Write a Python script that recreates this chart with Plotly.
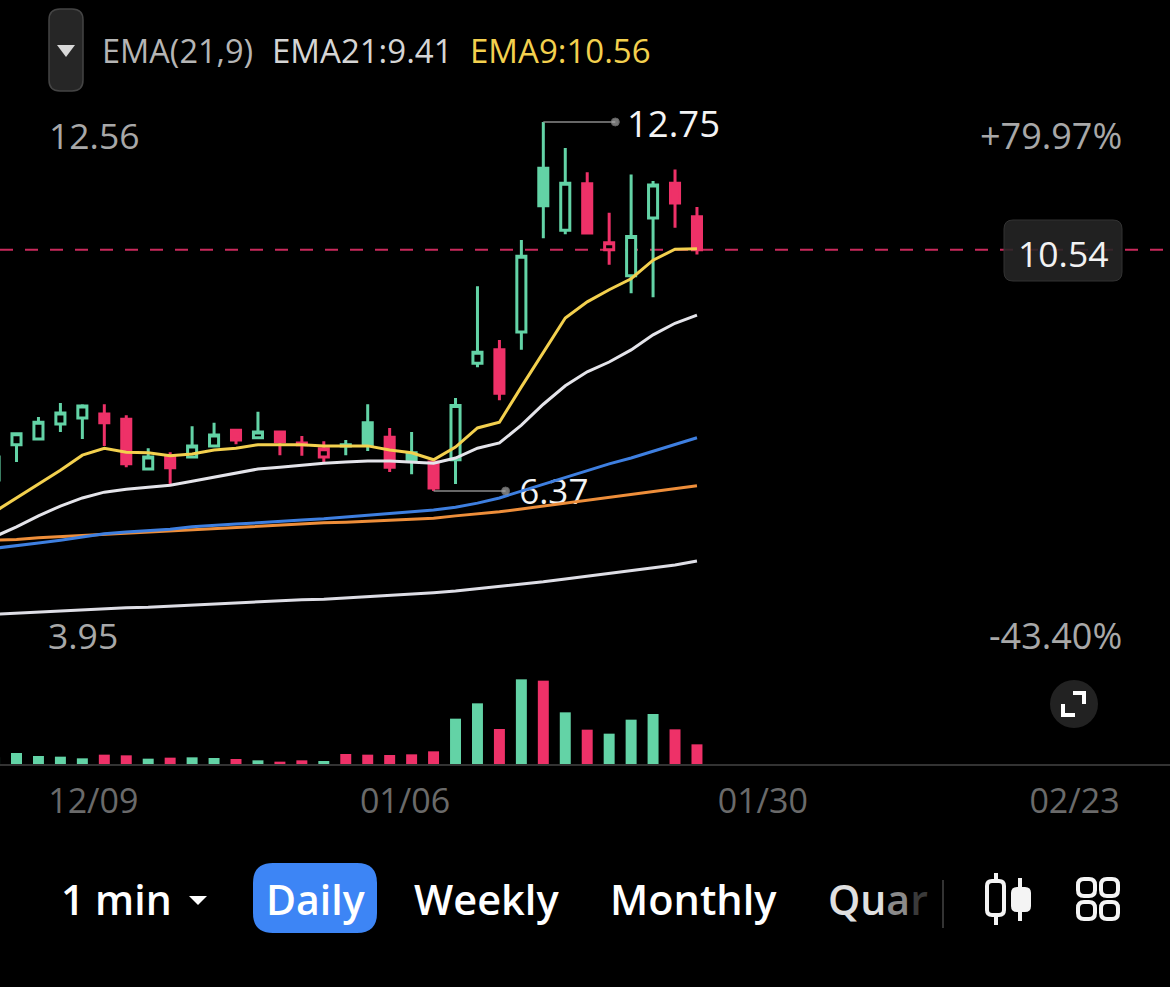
import plotly.graph_objects as go

W, H = 1170, 987

# 数据：从截图读出来的日K（第一根只露出一点）
positions = list(range(33))
opens = [6.56, 7.17, 7.27, 7.53, 7.63, 7.70, 7.61, 6.75, 6.96, 6.96, 7.15, 7.42, 7.29, 7.39, 7.20, 6.96, 7.17,
         7.55, 7.30, 7.03, 6.87, 6.91, 8.58, 8.81, 9.12, 11.95, 10.88, 11.68, 10.54, 10.09, 11.09, 11.69, 11.11]
highs = [6.96, 7.37, 7.65, 7.89, 7.87, 7.87, 7.68, 7.11, 7.04, 7.49, 7.55, 7.42, 7.74, 7.39, 7.32, 7.23, 7.25,
         7.87, 7.46, 7.39, 6.91, 7.98, 9.91, 8.98, 10.71, 12.75, 12.30, 11.88, 11.18, 11.84, 11.73, 11.93, 11.28]
lows = [6.56, 6.87, 7.27, 7.39, 7.27, 7.15, 6.78, 6.73, 6.49, 6.94, 7.15, 7.18, 7.29, 6.99, 6.98, 6.87, 6.99,
        7.06, 6.70, 6.66, 6.37, 6.49, 8.51, 7.94, 8.81, 10.74, 10.81, 10.81, 10.28, 9.79, 9.72, 10.92, 10.46]
closes = [6.96, 7.36, 7.56, 7.72, 7.84, 7.55, 6.84, 6.96, 6.77, 7.15, 7.34, 7.25, 7.39, 7.22, 7.17, 7.10, 7.15,
          7.17, 6.78, 6.91, 6.42, 7.85, 8.77, 8.06, 10.43, 11.30, 11.69, 10.83, 10.66, 10.77, 11.66, 11.35, 10.54]
volumes = [20, 33, 24, 22, 17, 28, 26, 16, 19, 20, 18, 15, 11, 7, 11, 9, 30,
           28, 27, 29, 38, 136, 182, 105, 254, 250, 155, 103, 91, 133, 150, 104, 59]

ema9 = [6.01, 6.25, 6.49, 6.73, 6.99, 7.11, 7.04, 7.03, 6.98, 7.01, 7.08, 7.11, 7.17, 7.17, 7.17, 7.15, 7.15,
        7.15, 7.08, 7.03, 6.91, 7.13, 7.46, 7.56, 8.17, 8.77, 9.36, 9.64, 9.85, 10.04, 10.36, 10.55, 10.56]
ema21 = [5.58, 5.75, 5.94, 6.11, 6.25, 6.35, 6.40, 6.44, 6.47, 6.54, 6.61, 6.68, 6.75, 6.78, 6.82, 6.85, 6.87,
         6.89, 6.89, 6.87, 6.85, 6.94, 7.11, 7.20, 7.51, 7.87, 8.19, 8.43, 8.60, 8.81, 9.07, 9.27, 9.41]
blue_ma = [5.38, 5.42, 5.47, 5.52, 5.58, 5.63, 5.66, 5.68, 5.71, 5.75, 5.78, 5.80, 5.82, 5.85, 5.87, 5.89, 5.92,
           5.94, 5.97, 6.01, 6.04, 6.09, 6.16, 6.25, 6.37, 6.49, 6.61, 6.72, 6.84, 6.94, 7.06, 7.18, 7.29]
orange_ma = [5.52, 5.53, 5.56, 5.58, 5.60, 5.63, 5.64, 5.66, 5.68, 5.71, 5.73, 5.75, 5.77, 5.78, 5.80, 5.82, 5.83,
             5.85, 5.87, 5.89, 5.90, 5.94, 5.97, 6.01, 6.06, 6.11, 6.16, 6.21, 6.27, 6.32, 6.37, 6.42, 6.46]
slow_ma = [4.24, 4.26, 4.28, 4.29, 4.31, 4.33, 4.35, 4.36, 4.38, 4.40, 4.42, 4.43, 4.45, 4.47, 4.49, 4.50, 4.52,
           4.54, 4.56, 4.58, 4.61, 4.64, 4.68, 4.71, 4.76, 4.80, 4.85, 4.90, 4.94, 4.99, 5.04, 5.09, 5.16]

tick_positions = [4.5, 18.7, 35.0, 49.2]
tick_labels = ["12/09", "01/06", "01/30", "02/23"]

GREEN = "#63D3A6"
RED = "#EE3168"
FONT = "Open Sans"


def px(x):
    return x / W


def py(y):
    return 1 - y / H


def rounded(x0, y0, x1, y1, r):
    # 圆角矩形，像素坐标转 paper
    pts = [
        f"M{px(x0 + r)},{py(y0)}", f"L{px(x1 - r)},{py(y0)}", f"Q{px(x1)},{py(y0)} {px(x1)},{py(y0 + r)}",
        f"L{px(x1)},{py(y1 - r)}", f"Q{px(x1)},{py(y1)} {px(x1 - r)},{py(y1)}", f"L{px(x0 + r)},{py(y1)}",
        f"Q{px(x0)},{py(y1)} {px(x0)},{py(y1 - r)}", f"L{px(x0)},{py(y0 + r)}", f"Q{px(x0)},{py(y0)} {px(x0 + r)},{py(y0)}Z",
    ]
    return "".join(pts)


def poly(points, close=False):
    d = "M" + "L".join(f"{px(x)},{py(y)}" for x, y in points)
    return d + ("Z" if close else "")


def shape(path, fill="rgba(0,0,0,0)", line="rgba(0,0,0,0)", width=0):
    return dict(type="path", xref="paper", yref="paper", path=path, fillcolor=fill, line=dict(color=line, width=width), layer="above")


def label(text, x, y, size, color, anchor="left", weight=400):
    return dict(text=text, xref="paper", yref="paper", x=px(x), y=py(y), xanchor=anchor, yanchor="middle", showarrow=False,
                font=dict(family=FONT, size=size, color=color, weight=weight))


def candle_trace(mask, color, hollow):
    idx = [i for i in positions if mask(i)]
    style = dict(line=dict(color=color, width=3), fillcolor="#000000" if hollow else color)
    return go.Candlestick(
        x=[positions[i] for i in idx], open=[opens[i] for i in idx], high=[highs[i] for i in idx],
        low=[lows[i] for i in idx], close=[closes[i] for i in idx],
        increasing=style, decreasing=style, whiskerwidth=0, showlegend=False, hoverinfo="skip",
    )


# 颜色看和前一天收盘比，空心/实心看收盘和开盘
def is_up(i):
    return i == 0 or closes[i] >= closes[i - 1]


def is_hollow(i):
    return closes[i] >= opens[i]


fig = go.Figure()

fig.add_trace(go.Bar(
    x=positions, y=volumes, yaxis="y2", width=0.5, showlegend=False, hoverinfo="skip",
    marker=dict(color=[GREEN if closes[i] >= opens[i] else RED for i in positions], line=dict(width=0)),
))

fig.add_trace(candle_trace(lambda i: is_up(i) and is_hollow(i), GREEN, True))
fig.add_trace(candle_trace(lambda i: is_up(i) and not is_hollow(i), GREEN, False))
fig.add_trace(candle_trace(lambda i: not is_up(i) and is_hollow(i), RED, True))
fig.add_trace(candle_trace(lambda i: not is_up(i) and not is_hollow(i), RED, False))

# 最低价文字要压在均线下面，所以用 scatter 文本先画，y 稍微下移对齐引线
fig.add_trace(go.Scatter(
    x=[23.9], y=[min(lows) - 0.08], mode="text", text=[f"{min(lows):.2f}"], textposition="middle right",
    textfont=dict(family=FONT, size=35, color="#f4f4f4"), showlegend=False, hoverinfo="skip",
))

for vals, color in [(slow_ma, "#DEDEE6"), (orange_ma, "#EE8E3A"), (blue_ma, "#3E7FE0"), (ema21, "#E4E4EA"), (ema9, "#F3D04E")]:
    fig.add_trace(go.Scatter(x=positions, y=vals, mode="lines", line=dict(color=color, width=3), showlegend=False, hoverinfo="skip"))

# 最高/最低价的引线
for pos, val in [(25, max(highs)), (20, min(lows))]:
    fig.add_trace(go.Scatter(
        x=[pos, pos + 3.28], y=[val, val], mode="lines+markers", showlegend=False, hoverinfo="skip",
        line=dict(color="#8a8a8a", width=1.5), marker=dict(color="#a8a8a8", size=[0, 8]),
    ))

shapes = [
    dict(type="line", xref="paper", yref="y", x0=0, x1=1, y0=closes[-1], y1=closes[-1], layer="below",
         line=dict(color="#C92A5C", width=2, dash="13px,12px")),
    # 价格标签底，半透明能隐约看到虚线
    shape(rounded(1004, 220, 1122, 281, 9), fill="rgba(38,38,38,0.88)", line="#333333", width=1),
    # 顶部折叠按钮
    shape(rounded(49, 9, 83, 91, 11), fill="#262626", line="#444444", width=1.5),
    shape(poly([(57, 45), (75, 45), (66, 57)], True), fill="#d8d8d8"),
    # 全屏按钮
    dict(type="circle", xref="paper", yref="paper", x0=px(1050), x1=px(1098), y0=py(728), y1=py(680), fillcolor="#222222", line=dict(width=0), layer="above"),
    shape(poly([(1073, 693), (1084, 693), (1084, 704)]), line="#ffffff", width=4),
    shape(poly([(1063, 704), (1063, 715), (1075, 715)]), line="#ffffff", width=4),
    # 底部周期栏
    shape(rounded(253, 863, 377, 933, 20), fill="#3D85F5"),
    shape(poly([(189, 896), (207, 896), (198, 905)], True), fill="#ffffff"),
    shape(poly([(943, 880), (943, 928)]), line="#333333", width=2),
    # K线图标
    shape(rounded(987, 881, 1004, 915, 5), line="#f4f4f4", width=4),
    shape(poly([(996, 873), (996, 881)]), line="#f4f4f4", width=4),
    shape(poly([(996, 915), (996, 925)]), line="#f4f4f4", width=4),
    shape(rounded(1011, 887, 1031, 912, 6), fill="#f4f4f4"),
    shape(poly([(1020, 878), (1020, 921)]), line="#f4f4f4", width=4),
    # 九宫格图标
    shape(rounded(1078, 879, 1095, 896, 6), line="#f4f4f4", width=4),
    shape(rounded(1101, 879, 1118, 896, 6), line="#f4f4f4", width=4),
    shape(rounded(1078, 902, 1095, 919, 6), line="#f4f4f4", width=4),
    shape(rounded(1101, 902, 1118, 919, 6), line="#f4f4f4", width=4),
]

annotations = [
    label("EMA(21,9)", 100, 51, 32.5, "#b5b5b5"),
    label("EMA21:9.41", 270, 51, 33, "#d5d5d5"),
    label("EMA9:10.56", 468, 51, 33, "#F3D04E"),
    label("12.56", 47, 135, 35.5, "#a8a8a8"),
    label("3.95", 46, 635, 35.5, "#a8a8a8"),
    label("+79.97%", 1124, 135, 36, "#a8a8a8", "right"),
    label("-43.40%", 1124, 635, 36, "#a8a8a8", "right"),
    label("10.54", 1063, 253, 35.5, "#f2f2f2", "center"),
    label("12.75", 625, 123, 36.5, "#f4f4f4"),
    label("1 min", 59, 899, 41, "#ffffff", weight=600),
    label("Daily", 315, 899, 41, "#ffffff", "center", weight=600),
    label("Weekly", 412, 899, 41.5, "#ffffff", weight=600),
    label("Monthly", 608, 899, 41.5, "#ffffff", weight=600),
    label("Qu<span style='color:#8a8a8a'>a</span><span style='color:#3a3a3a'>r</span>", 826, 899, 41, "#e0e0e0", weight=600),
]

fig.update_layout(
    width=W, height=H, margin=dict(l=0, r=0, t=0, b=0), paper_bgcolor="#000000", plot_bgcolor="rgba(0,0,0,0)",
    boxgap=0.41, barmode="overlay", shapes=shapes, annotations=annotations, showlegend=False,
    xaxis=dict(
        domain=[0, 1], range=[0.248, 53.55], anchor="y2", rangeslider=dict(visible=False), showgrid=False, zeroline=False,
        tickmode="array", tickvals=tick_positions, ticktext=tick_labels, ticks="outside", ticklen=6, tickcolor="rgba(0,0,0,0)",
        tickfont=dict(family=FONT, size=34, color="#6a6a6a"), showline=True, linecolor="#333333", linewidth=2,
    ),
    yaxis=dict(domain=[py(640), py(100)], range=[3.794, 13.13], showgrid=False, zeroline=False, showticklabels=False, anchor="x"),
    yaxis2=dict(domain=[py(764), py(640)], range=[0, 372], showgrid=False, zeroline=False, showticklabels=False, anchor="x"),
)

fig.write_html(
    "out.html",
    config={"displayModeBar": False},
    post_script="document.body.style.margin='0';document.body.style.background='#000';document.documentElement.style.overflow='hidden';",
)
